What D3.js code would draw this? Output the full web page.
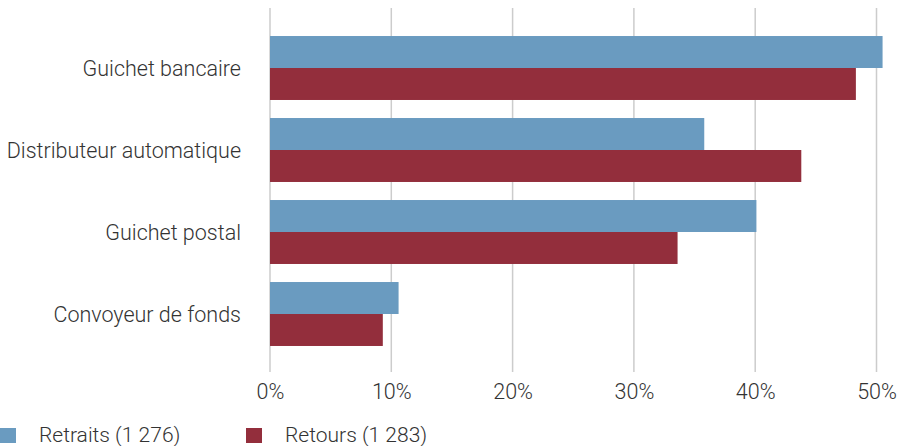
<!DOCTYPE html>
<html>
<head>
<meta charset="utf-8">
<script src="https://cdn.jsdelivr.net/npm/d3@7"></script>
<style>
  body { margin: 0; background: #fff; }
  text { font-family: Roboto, "Liberation Sans", sans-serif; font-weight: 300; fill: #333; }
  .grid line { stroke: #cccccc; stroke-width: 1.5; }
</style>
</head>
<body>
<div id="chart"></div>
<script>
const categories = ['Guichet bancaire', 'Distributeur automatique', 'Guichet postal', 'Convoyeur de fonds'];
const seriesNames = ['Retraits (1 276)', 'Retours (1 283)'];
const retraits = [50.5, 35.8, 40.1, 10.6];
const retours = [48.3, 43.8, 33.6, 9.3];
const tickValues = [0, 10, 20, 30, 40, 50];
const colors = ['#6a9bc0', '#932e3c'];

const width = 899, height = 446;
const margin = { top: 8, left: 270, right: 899 - 876.5 };
const plotBottom = 372;
const fontSize = '21.5px';

const svg = d3.select('#chart').append('svg')
  .attr('width', width)
  .attr('height', height);

// x scale: 0..50 percent
const x = d3.scaleLinear().domain([0, 50]).range([margin.left, width - margin.right]);

// category bands, then series inside each band
const y = d3.scaleBand().domain(categories).range([27, 355]).paddingInner(0.22).paddingOuter(0.11);
const ySub = d3.scaleBand().domain([0, 1]).range([0, y.bandwidth()]);

// gridlines
svg.append('g')
  .attr('class', 'grid')
  .selectAll('line')
  .data(tickValues)
  .join('line')
  .attr('x1', d => x(d))
  .attr('x2', d => x(d))
  .attr('y1', margin.top)
  .attr('y2', plotBottom);

// bars
const rows = categories.map((c, i) => ({ cat: c, vals: [retraits[i], retours[i]] }));
const groups = svg.append('g').attr('class', 'bars')
  .selectAll('g')
  .data(rows)
  .join('g')
  .attr('transform', d => `translate(0, ${y(d.cat)})`);

groups.selectAll('rect')
  .data(d => d.vals.map((v, s) => ({ v, s })))
  .join('rect')
  .attr('x', x(0))
  .attr('y', d => ySub(d.s))
  .attr('width', d => x(d.v) - x(0))
  .attr('height', ySub.bandwidth())
  .attr('fill', d => colors[d.s]);

// category labels
svg.append('g')
  .selectAll('text')
  .data(categories)
  .join('text')
  .attr('x', 241)
  .attr('y', d => y(d) + y.bandwidth() / 2)
  .attr('dy', '0.35em')
  .attr('text-anchor', 'end')
  .style('font-size', fontSize)
  .text(d => d);

// x axis tick labels
const xAxis = svg.append('g')
  .attr('transform', `translate(0, ${plotBottom})`)
  .call(d3.axisBottom(x).tickValues(tickValues).tickSize(0).tickFormat(d => d + '%'));
xAxis.select('.domain').remove();
xAxis.selectAll('text')
  .attr('dy', '0.35em')
  .attr('y', 19)
  .style('font-size', fontSize)
  .style('fill', '#333');

// legend
const legend = svg.append('g')
  .selectAll('g')
  .data(seriesNames)
  .join('g')
  .attr('transform', (d, i) => `translate(${i === 0 ? 0 : 246}, 428)`);
legend.append('rect')
  .attr('width', 16)
  .attr('height', 15)
  .attr('fill', (d, i) => colors[i]);
legend.append('text')
  .attr('x', 39)
  .attr('y', 7)
  .attr('dy', '0.35em')
  .style('font-size', '21px')
  .text(d => d);
</script>
</body>
</html>
